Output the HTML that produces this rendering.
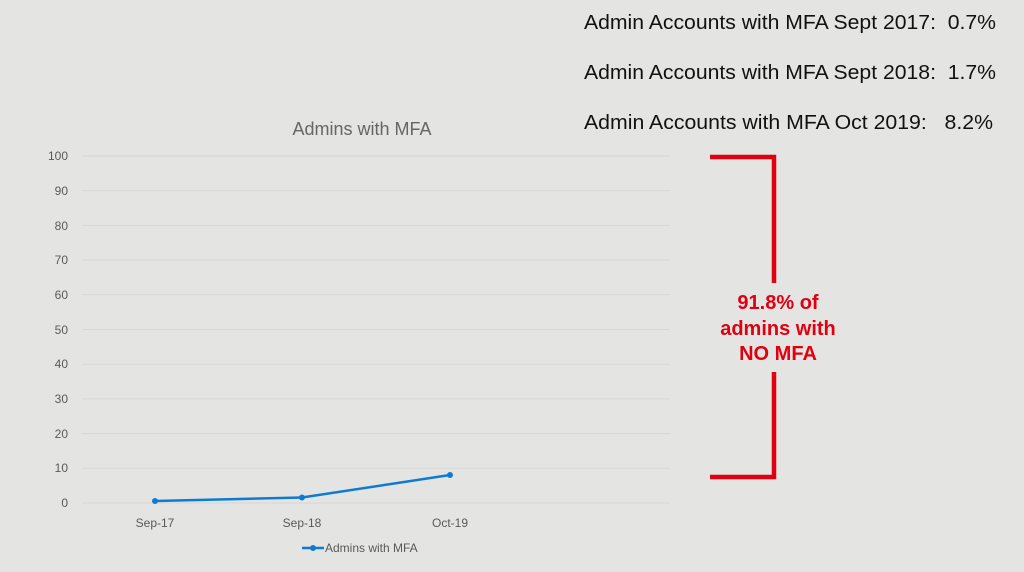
<!DOCTYPE html>
<html><head><style>
body{margin:0;width:1024px;height:572px;background:#e4e5e3;overflow:hidden;font-family:"Liberation Sans",sans-serif}
text{white-space:pre}
</style></head><body>
<svg width="1024" height="572" xmlns="http://www.w3.org/2000/svg" style="position:absolute;left:0;top:0">
<g font-family="Liberation Sans, sans-serif" font-size="20" fill="#111">
<text x="584" y="29" textLength="412" lengthAdjust="spacingAndGlyphs" xml:space="preserve">Admin Accounts with MFA Sept 2017:  0.7%</text>
<text x="584" y="79" textLength="412" lengthAdjust="spacingAndGlyphs" xml:space="preserve">Admin Accounts with MFA Sept 2018:  1.7%</text>
<text x="584" y="129" textLength="409" lengthAdjust="spacingAndGlyphs" xml:space="preserve">Admin Accounts with MFA Oct 2019:   8.2%</text>
</g>
<text x="362" y="135" text-anchor="middle" font-size="18" fill="#666">Admins with MFA</text>
<g stroke="#d6d7d5" stroke-width="1">
<line x1="82" x2="670" y1="156" y2="156"/><line x1="82" x2="670" y1="190.7" y2="190.7"/>
<line x1="82" x2="670" y1="225.4" y2="225.4"/><line x1="82" x2="670" y1="260.1" y2="260.1"/>
<line x1="82" x2="670" y1="294.8" y2="294.8"/><line x1="82" x2="670" y1="329.5" y2="329.5"/>
<line x1="82" x2="670" y1="364.2" y2="364.2"/><line x1="82" x2="670" y1="398.9" y2="398.9"/>
<line x1="82" x2="670" y1="433.6" y2="433.6"/><line x1="82" x2="670" y1="468.3" y2="468.3"/>
<line x1="82" x2="670" y1="503" y2="503"/>
</g>
<g font-size="12" fill="#595959" text-anchor="end">
<text x="68" y="160">100</text><text x="68" y="195">90</text><text x="68" y="230">80</text>
<text x="68" y="264">70</text><text x="68" y="299">60</text><text x="68" y="334">50</text>
<text x="68" y="368">40</text><text x="68" y="403">30</text><text x="68" y="438">20</text>
<text x="68" y="472">10</text><text x="68" y="507">0</text>
</g>
<g font-size="12" fill="#595959" text-anchor="middle">
<text x="155" y="527">Sep-17</text><text x="302" y="527">Sep-18</text><text x="450" y="527">Oct-19</text>
</g>
<polyline points="155,501 302,497.5 450,475" fill="none" stroke="#0f7bd0" stroke-width="2.5"/>
<g fill="#0f7bd0"><circle cx="155" cy="501" r="3"/><circle cx="302" cy="497.5" r="3"/><circle cx="450" cy="475" r="3"/></g>
<line x1="302" x2="324" y1="548" y2="548" stroke="#0f7bd0" stroke-width="2.5"/>
<circle cx="313" cy="548" r="3" fill="#0f7bd0"/>
<text x="325" y="552" font-size="12" fill="#595959">Admins with MFA</text>
<g stroke="#e00010" stroke-width="4.5" fill="none">
<polyline points="710,157 774,157 774,283"/>
<polyline points="774,372 774,477 710,477"/>
</g>
<g font-size="20" font-weight="bold" fill="#e00010" text-anchor="middle">
<text x="778" y="309">91.8% of</text>
<text x="778" y="335">admins with</text>
<text x="778" y="360">NO MFA</text>
</g>
</svg>
</body></html>
